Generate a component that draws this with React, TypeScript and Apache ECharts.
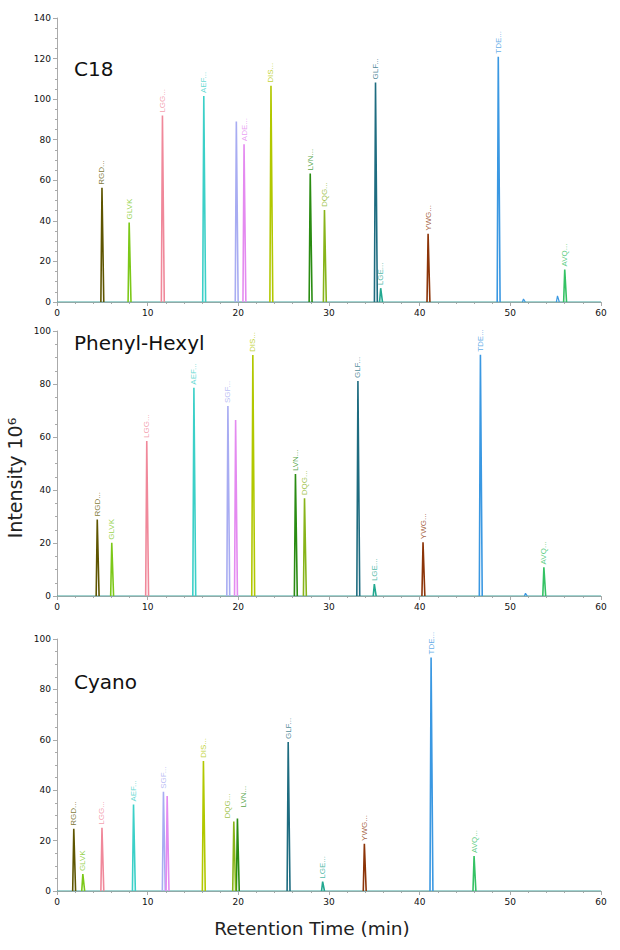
import { useEffect, useRef } from 'react';
import * as echarts from 'echarts';

// peptide colours, same order in every panel
const peptideColors = [
  '#5e5500', '#7cc818', '#f0889a', '#3cd0c8', '#a8acf2', '#e48af0', '#b2c800',
  '#2a8c12', '#88b41a', '#1e6c80', '#22a890', '#8c3408', '#3a98e2', '#34c264',
];

// C18
const c18Times = [4.96, 7.96, 11.63, 16.19, 19.78, 20.63, 23.6, 27.93, 29.5, 35.13, 35.7, 40.93, 48.67, 56.0];
const c18Heights = [56.3, 39.2, 91.9, 101.5, 89, 77.8, 106.6, 63.4, 45.3, 108.2, 6.8, 33.6, 120.9, 16];
const c18Labels = ['RGD...', 'GLVK', 'LGG...', 'AEF...', '', 'ADE...', 'DIS...', 'LVN...', 'DQG...', 'GLF...', 'LGE...', 'YWG...', 'TDE...', 'AVQ...'];
const c18MinorTimes = [51.45, 55.2];
const c18MinorHeights = [1.5, 3];

// Phenyl-Hexyl
const phTimes = [4.44, 6.04, 9.9, 15.1, 18.85, 19.7, 21.6, 26.3, 27.3, 33.19, 35.0, 40.37, 46.7, 53.7];
const phHeights = [28.9, 20.1, 58.5, 78.6, 71.7, 66.4, 90.9, 46, 36.9, 81.1, 4.5, 20.3, 91, 10.8];
const phLabels = ['RGD...', 'GLVK', 'LGG...', 'AEF...', 'SGF...', '', 'DIS...', 'LVN...', 'DQG...', 'GLF...', 'LGE...', 'YWG...', 'TDE...', 'AVQ...'];
const phMinorTimes = [51.67];
const phMinorHeights = [1];

// Cyano
const cyTimes = [1.85, 2.85, 4.96, 8.44, 11.74, 12.15, 16.15, 19.9, 19.5, 25.5, 29.3, 33.9, 41.26, 46.0];
const cyHeights = [24.7, 6.7, 25.1, 34.3, 39.4, 37.7, 51.6, 28.8, 27.6, 59.1, 3.7, 18.7, 92.7, 13.9];
const cyLabels = ['RGD...', 'GLVK', 'LGG...', 'AEF...', 'SGF...', '', 'DIS...', 'LVN...', 'DQG...', 'GLF...', 'LGE...', 'YWG...', 'TDE...', 'AVQ...'];

const panelNames = ['C18', 'Phenyl-Hexyl', 'Cyano'];
const yMaxes = [140, 100, 100];

const PEAK_LEFT = 0.12;
const PEAK_RIGHT = 0.2;

// labels nudged where two peaks crowd each other (panel -> peak index -> offset in the rotated text frame)
const labelNudge: Record<number, Record<number, number[]>> = {
  2: { 7: [8, 6], 8: [0, -6] },
};

function peakSeries(grid: number, times: number[], heights: number[], labels: string[], minorTimes: number[], minorHeights: number[]) {
  const series: any[] = [];
  series.push({
    type: 'line',
    xAxisIndex: grid,
    yAxisIndex: grid,
    data: [[0, 0], [60, 0]],
    showSymbol: false,
    lineStyle: { color: '#45a6a0', width: 1.2 },
    silent: true,
  });
  times.forEach((t, i) => {
    series.push({
      type: 'line',
      xAxisIndex: grid,
      yAxisIndex: grid,
      data: [[t - PEAK_LEFT, 0], [t, heights[i]], [t + PEAK_RIGHT, 0]],
      showSymbol: false,
      lineStyle: { color: peptideColors[i], width: 1.6 },
      z: 3,
    });
  });
  minorTimes.forEach((t, i) => {
    series.push({
      type: 'line',
      xAxisIndex: grid,
      yAxisIndex: grid,
      data: [[t - PEAK_LEFT, 0], [t, minorHeights[i]], [t + PEAK_RIGHT, 0]],
      showSymbol: false,
      lineStyle: { color: peptideColors[12], width: 1.2 },
    });
  });
  const nudge = labelNudge[grid] || {};
  series.push({
    type: 'scatter',
    xAxisIndex: grid,
    yAxisIndex: grid,
    symbolSize: 0,
    z: 5,
    data: times
      .map((t, i) => ({
        value: [t, heights[i]],
        name: labels[i],
        label: { color: peptideColors[i], offset: nudge[i] || [0, 0] },
      }))
      .filter((d) => d.name !== ''),
    label: {
      show: true,
      formatter: (p: any) => p.name,
      position: 'top',
      rotate: 90,
      align: 'left',
      verticalAlign: 'middle',
      distance: 3,
      fontSize: 8,
      fontFamily: 'Liberation Sans, Arial, sans-serif',
    },
  });
  return series;
}

export default function App() {
  const ref = useRef<HTMLDivElement>(null);

  useEffect(() => {
    if (!ref.current) return;
    const chart = echarts.init(ref.current, undefined, { renderer: 'svg' });

    const grids = [
      { left: 57, right: 19, top: 18, height: 284 },
      { left: 57, right: 19, top: 331, height: 265 },
      { left: 57, right: 19, top: 639, height: 252 },
    ];
    const axisFont = { fontSize: 9, color: '#111', fontFamily: 'DejaVu Sans, Verdana, sans-serif' };

    const option: any = {
      animation: false,
      backgroundColor: '#fff',
      grid: grids,
      xAxis: grids.map((_, i) => ({
        type: 'value',
        gridIndex: i,
        min: 0,
        max: 60,
        interval: 10,
        axisLine: { show: true, lineStyle: { color: '#aaa' } },
        axisTick: { show: true, length: 4, lineStyle: { color: '#aaa' } },
        minorTick: { show: true, splitNumber: 5, length: 2, lineStyle: { color: '#aaa' } },
        splitLine: { show: false },
        axisLabel: { ...axisFont, margin: 6 },
      })),
      yAxis: grids.map((_, i) => ({
        type: 'value',
        gridIndex: i,
        min: 0,
        max: yMaxes[i],
        interval: 20,
        axisLine: { show: true, lineStyle: { color: '#aaa' } },
        axisTick: { show: true, length: 4, lineStyle: { color: '#aaa' } },
        minorTick: { show: true, splitNumber: 4, length: 2, lineStyle: { color: '#aaa' } },
        splitLine: { show: false },
        axisLabel: { ...axisFont, margin: 6 },
      })),
      series: [
        ...peakSeries(0, c18Times, c18Heights, c18Labels, c18MinorTimes, c18MinorHeights),
        ...peakSeries(1, phTimes, phHeights, phLabels, phMinorTimes, phMinorHeights),
        ...peakSeries(2, cyTimes, cyHeights, cyLabels, [], []),
      ],
      graphic: [
        ...panelNames.map((name, i) => ({
          type: 'text',
          left: 74,
          top: [59, 333, 672][i],
          style: { text: name, fontSize: 20, fill: '#111', fontFamily: 'DejaVu Sans, Verdana, sans-serif' },
        })),
        {
          type: 'text',
          x: 312,
          y: 928,
          style: {
            text: 'Retention Time (min)',
            fontSize: 18.5,
            fill: '#222',
            align: 'center',
            verticalAlign: 'middle',
            fontFamily: 'DejaVu Sans, Verdana, sans-serif',
          },
        },
        {
          type: 'text',
          x: 15,
          y: 478,
          rotation: Math.PI / 2,
          style: {
            text: 'Intensity 10⁶',
            fontSize: 19,
            fill: '#222',
            align: 'center',
            verticalAlign: 'middle',
            fontFamily: 'DejaVu Sans, Verdana, sans-serif',
          },
        },
      ],
    };

    chart.setOption(option);
    return () => chart.dispose();
  }, []);

  return <div ref={ref} style={{ position: 'fixed', left: 0, top: 0, width: 620, height: 950 }} />;
}
